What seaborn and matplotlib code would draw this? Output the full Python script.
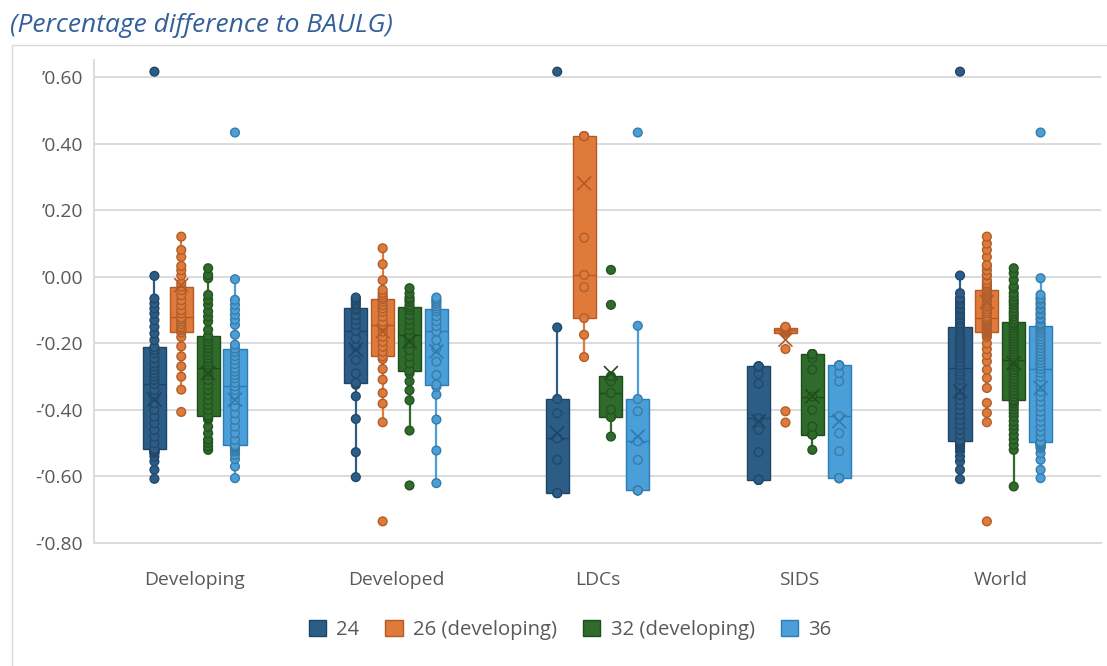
import numpy as np
import pandas as pd
import matplotlib
matplotlib.use("Agg")
import matplotlib.pyplot as plt
from matplotlib.patches import Patch, Rectangle
import seaborn as sns

# ---- categories -------------------------------------------------------------
groups = ["Developing", "Developed", "LDCs", "SIDS", "World"]
scenarios = ["24", "26 (developing)", "32 (developing)", "36"]

# ---- observations (percentage difference to BAULG) --------------------------
dev_24 = [-0.607, -0.58, -0.555, -0.54, -0.53, -0.528, -0.525, -0.522, -0.52, -0.519,
          -0.517,
          -0.50, -0.48, -0.46, -0.44, -0.42, -0.40, -0.38, -0.36, -0.34,
          -0.322,
          -0.31, -0.30, -0.29, -0.28, -0.27, -0.26, -0.245, -0.23, -0.22,
          -0.211,
          -0.19, -0.17, -0.15, -0.13, -0.11, -0.095, -0.08, -0.065, 0.003, 0.617]
dev_26 = [-0.406, -0.339, -0.30, -0.269, -0.239, -0.209, -0.181,
          -0.167,
          -0.16, -0.155, -0.15, -0.142, -0.135, -0.128,
          -0.122,
          -0.11, -0.10, -0.085, -0.07, -0.055, -0.04,
          -0.029,
          -0.019, 0.004, 0.02, 0.033, 0.06, 0.081, 0.121]
dev_32 = [-0.52, -0.51, -0.499, -0.489, -0.47, -0.45, -0.429, -0.425, -0.42, -0.418,
          -0.417,
          -0.40, -0.385, -0.37, -0.355, -0.34, -0.325, -0.31, -0.295, -0.285,
          -0.275,
          -0.265, -0.255, -0.245, -0.235, -0.225, -0.215, -0.205, -0.195, -0.185,
          -0.177,
          -0.159, -0.134, -0.119, -0.104, -0.084, -0.069, -0.054, -0.004, 0.006, 0.026]
dev_36 = [-0.605, -0.57, -0.548, -0.535, -0.525, -0.52, -0.515, -0.512, -0.51, -0.508,
          -0.506,
          -0.49, -0.47, -0.45, -0.43, -0.41, -0.39, -0.37, -0.355, -0.34,
          -0.329,
          -0.318, -0.305, -0.295, -0.285, -0.275, -0.262, -0.25, -0.238, -0.226,
          -0.216,
          -0.204, -0.174, -0.144, -0.129, -0.114, -0.099, -0.084, -0.069, -0.007, 0.434]

dvd_24 = [-0.602, -0.527, -0.427, -0.359, -0.324,
          -0.319,
          -0.29, -0.25, -0.21, -0.185,
          -0.162,
          -0.145, -0.13, -0.115, -0.10,
          -0.094,
          -0.085, -0.08, -0.072, -0.066, -0.062]
dvd_26 = [-0.735, -0.437, -0.381, -0.349, -0.309, -0.277, -0.247,
          -0.239,
          -0.225, -0.21, -0.195, -0.18, -0.165, -0.153,
          -0.144,
          -0.135, -0.12, -0.105, -0.095, -0.085, -0.075,
          -0.067,
          -0.062, -0.055, -0.048, -0.039, -0.01, 0.038, 0.086]
dvd_32 = [-0.627, -0.462, -0.371, -0.341, -0.314, -0.29,
          -0.282,
          -0.26, -0.24, -0.22, -0.20, -0.185,
          -0.174,
          -0.16, -0.145, -0.13, -0.115, -0.10,
          -0.092,
          -0.085, -0.075, -0.068, -0.062, -0.05, -0.034]
dvd_36 = [-0.62, -0.522, -0.429, -0.354, -0.33,
          -0.324,
          -0.295, -0.255, -0.215, -0.19,
          -0.164,
          -0.148, -0.133, -0.118, -0.104,
          -0.096,
          -0.088, -0.08, -0.074, -0.068, -0.062]

ldc_24 = [-0.65, -0.65, -0.65, -0.55, -0.485, -0.41, -0.367, -0.152, 0.617]
ldc_26 = [-0.241, -0.174, -0.124, -0.031, 0.006, 0.118, 0.423, 0.423, 0.423]
ldc_32 = [-0.48, -0.421, -0.421, -0.399, -0.349, -0.314, -0.299, -0.084, 0.021]
ldc_36 = [-0.642, -0.642, -0.642, -0.55, -0.494, -0.404, -0.367, -0.147, 0.434]

sids_24 = [-0.61, -0.61, -0.61, -0.61, -0.527, -0.46, -0.425, -0.321, -0.291,
           -0.269, -0.269, -0.269, -0.269]
sids_26 = [-0.438, -0.404, -0.217, -0.168, -0.165, -0.162, -0.16, -0.158, -0.155,
           -0.153, -0.152, -0.151, -0.15]
sids_32 = [-0.52, -0.474, -0.474, -0.474, -0.45, -0.40, -0.36, -0.279, -0.244,
           -0.232, -0.232, -0.232, -0.232]
sids_36 = [-0.605, -0.605, -0.605, -0.605, -0.524, -0.47, -0.419, -0.314, -0.289,
           -0.266, -0.266, -0.266, -0.266]

world_24 = [-0.608, -0.58, -0.555, -0.54, -0.525, -0.515, -0.51, -0.505, -0.503, -0.50,
            -0.498, -0.497, -0.496, -0.494, -0.493,
            -0.492,
            -0.475, -0.46, -0.445, -0.43, -0.415, -0.40, -0.385, -0.37, -0.355, -0.34,
            -0.325, -0.31, -0.295, -0.285,
            -0.274,
            -0.265, -0.255, -0.245, -0.237, -0.229, -0.221, -0.213, -0.205, -0.197,
            -0.189, -0.181, -0.173, -0.165, -0.158,
            -0.152,
            -0.145, -0.139, -0.13, -0.124, -0.115, -0.109, -0.10, -0.094, -0.085,
            -0.079, -0.07, -0.064, -0.049, 0.004, 0.617]
world_26 = [-0.735, -0.437, -0.409, -0.379, -0.334, -0.304, -0.279, -0.254, -0.235,
            -0.217, -0.2, -0.181, -0.175, -0.17,
            -0.167,
            -0.164, -0.161, -0.158, -0.155, -0.152, -0.149, -0.146, -0.143, -0.14,
            -0.137, -0.133, -0.13, -0.127,
            -0.124,
            -0.118, -0.11, -0.104, -0.097, -0.09, -0.084, -0.077, -0.07, -0.064,
            -0.058, -0.052, -0.047, -0.043,
            -0.039,
            -0.035, -0.03, -0.024, -0.019, -0.01, 0.004, 0.006, 0.02, 0.033, 0.036,
            0.06, 0.081, 0.1, 0.121]
world_32 = [-0.63, -0.52, -0.505, -0.489, -0.475, -0.459, -0.447, -0.434, -0.42, -0.409,
            -0.399, -0.389, -0.381, -0.375, -0.371,
            -0.369,
            -0.36, -0.351, -0.342, -0.333, -0.324, -0.315, -0.306, -0.297, -0.288,
            -0.279, -0.27, -0.263, -0.257, -0.253,
            -0.249,
            -0.241, -0.233, -0.225, -0.217, -0.209, -0.201, -0.193, -0.185, -0.177,
            -0.169, -0.161, -0.153, -0.146, -0.141,
            -0.137,
            -0.128, -0.119, -0.111, -0.104, -0.094, -0.084, -0.076, -0.069, -0.059,
            -0.049, -0.034, -0.029, -0.009, 0.011, 0.026]
world_36 = [-0.605, -0.58, -0.55, -0.53, -0.515, -0.51, -0.506, -0.503, -0.501, -0.5,
            -0.499, -0.498, -0.4975, -0.497, -0.4965,
            -0.496,
            -0.48, -0.465, -0.45, -0.435, -0.42, -0.405, -0.39, -0.375, -0.36, -0.345,
            -0.33, -0.315, -0.30, -0.288,
            -0.277,
            -0.268, -0.259, -0.25, -0.241, -0.232, -0.223, -0.214, -0.205, -0.196,
            -0.187, -0.178, -0.169, -0.161, -0.155,
            -0.149,
            -0.144, -0.139, -0.129, -0.124, -0.114, -0.109, -0.099, -0.094, -0.084,
            -0.079, -0.069, -0.064, -0.054, -0.004, 0.434]

# group means (marked with a cross)
mean_24 = [-0.369, -0.219, -0.470, -0.434, -0.344]
mean_26 = [-0.025, -0.164, 0.281, -0.189, -0.075]
mean_32 = [-0.289, -0.194, -0.289, -0.359, -0.259]
mean_36 = [-0.369, -0.224, -0.480, -0.434, -0.334]

y_ticks = [-0.8, -0.6, -0.4, -0.2, 0.0, 0.2, 0.4, 0.6]
y_tick_labels = ["-\u20190.80", "-\u20190.60", "-\u20190.40", "-\u20190.20",
                 "\u20190.00", "\u20190.20", "\u20190.40", "\u20190.60"]

title_text = "(Percentage difference to BAULG)"

# ---- tidy tables --------------------------------------------------------------
by_scenario = {
    "24": [dev_24, dvd_24, ldc_24, sids_24, world_24],
    "26 (developing)": [dev_26, dvd_26, ldc_26, sids_26, world_26],
    "32 (developing)": [dev_32, dvd_32, ldc_32, sids_32, world_32],
    "36": [dev_36, dvd_36, ldc_36, sids_36, world_36],
}
rows = []
for sc, per_group in by_scenario.items():
    for g, vals in zip(groups, per_group):
        rows.extend((g, sc, v) for v in vals)
obs = pd.DataFrame(rows, columns=["group", "scenario", "value"])

means = pd.DataFrame({
    "group": groups * 4,
    "scenario": np.repeat(scenarios, len(groups)),
    "value": mean_24 + mean_26 + mean_32 + mean_36,
})

# ---- styling ------------------------------------------------------------------
face = {"24": "#2c5d87", "26 (developing)": "#e07a3a",
        "32 (developing)": "#2f6b2a", "36": "#4a9fd8"}
dark = {"24": "#1d4566", "26 (developing)": "#b45a22",
        "32 (developing)": "#1e4d1a", "36": "#2c7cb6"}
# empty outer slots so the four boxes sit close together in each group
slots = ["_l"] + scenarios + ["_r"]
pal_face = {**face, "_l": "white", "_r": "white"}
pal_dark = {**dark, "_l": "white", "_r": "white"}

sns.set_theme(style="white")
plt.rcParams["font.family"] = ["Open Sans", "DejaVu Sans"]
grey_text = "#595959"
grid_col = "#d9d9d9"

fig = plt.figure(figsize=(11.07, 6.66), dpi=100)
ax = fig.add_axes([94 / 1107, 1 - 543 / 666, 1007 / 1107, (543 - 60) / 666])

sns.boxplot(data=obs, x="group", y="value", hue="scenario", order=groups,
            hue_order=slots, palette=pal_face, width=0.8, gap=0.14, dodge=True,
            whis=1.5, showfliers=False, linewidth=1.0, legend=False, ax=ax)

for cont, sc in zip(ax.containers, scenarios):
    for b in cont.boxes:
        b.set_facecolor(face[sc])
        b.set_edgecolor(dark[sc])
        b.set_linewidth(1.0)
    for w in cont.whiskers:
        w.set_color(face[sc])
        w.set_linewidth(1.6)
    for c in cont.caps:
        c.set_color(face[sc])
        c.set_linewidth(1.6)
        xm = np.mean(c.get_xdata())
        c.set_xdata([xm - 0.018, xm + 0.018])
    for m in cont.medians:
        m.set_color(dark[sc])
        m.set_linewidth(1.0)

# every observation as a dot on its box
n0 = len(ax.collections)
sns.stripplot(data=obs, x="group", y="value", hue="scenario", order=groups,
              hue_order=slots, palette=pal_face, dodge=True, jitter=False,
              size=6.3, linewidth=1.0, legend=False, zorder=2.5, ax=ax)
for coll in ax.collections[n0:]:
    fc = coll.get_facecolors()
    if len(fc):
        coll.set_edgecolors([tuple(np.array(c[:3]) * 0.78) + (1.0,) for c in fc])

# means as crosses
n1 = len(ax.collections)
sns.stripplot(data=means, x="group", y="value", hue="scenario", order=groups,
              hue_order=slots, palette=pal_dark, dodge=True, jitter=False,
              marker="x", size=10, linewidth=1.2, legend=False, zorder=3, ax=ax)
for coll in ax.collections[n1:]:
    fc = coll.get_facecolors()
    if len(fc):
        coll.set_edgecolors(fc)
        coll.set_facecolors("none")
        coll.set_linewidths(1.2)

# ---- axes -------------------------------------------------------------------
ax.set_xlim(-0.5, 4.5)
ax.set_ylim(-0.80, 0.652)
ax.set_yticks(y_ticks, y_tick_labels)
ax.set_xlabel("")
ax.set_ylabel("")
ax.set_axisbelow(True)
ax.yaxis.grid(True, color=grid_col, linewidth=1.3)
ax.xaxis.grid(False)
for side in ["top", "right"]:
    ax.spines[side].set_visible(False)
for side in ["left", "bottom"]:
    ax.spines[side].set_color(grid_col)
    ax.spines[side].set_linewidth(1.3)
ax.tick_params(axis="both", length=0, labelsize=13.9, labelcolor=grey_text)
ax.tick_params(axis="y", pad=8)
ax.tick_params(axis="x", pad=20)

handles = [Patch(facecolor=face[s], edgecolor=dark[s], label=s) for s in scenarios]
fig.legend(handles=handles, loc="center", bbox_to_anchor=(0.515, 0.054), ncol=4,
           frameon=False, handlelength=0.85, handleheight=0.85, handletextpad=0.5,
           columnspacing=1.3, fontsize=14.6, labelcolor=grey_text)

fig.patches.append(Rectangle((12 / 1107, -0.1), 1.2, 1.1 - 45 / 666,
                             transform=fig.transFigure, fill=False,
                             edgecolor=grid_col, linewidth=1.0))
fig.text(10 / 1107, 1 - 26 / 666, title_text, ha="left", va="center",
         fontsize=19, style="italic", color="#33609a")

fig.savefig("out.png", dpi=100)
